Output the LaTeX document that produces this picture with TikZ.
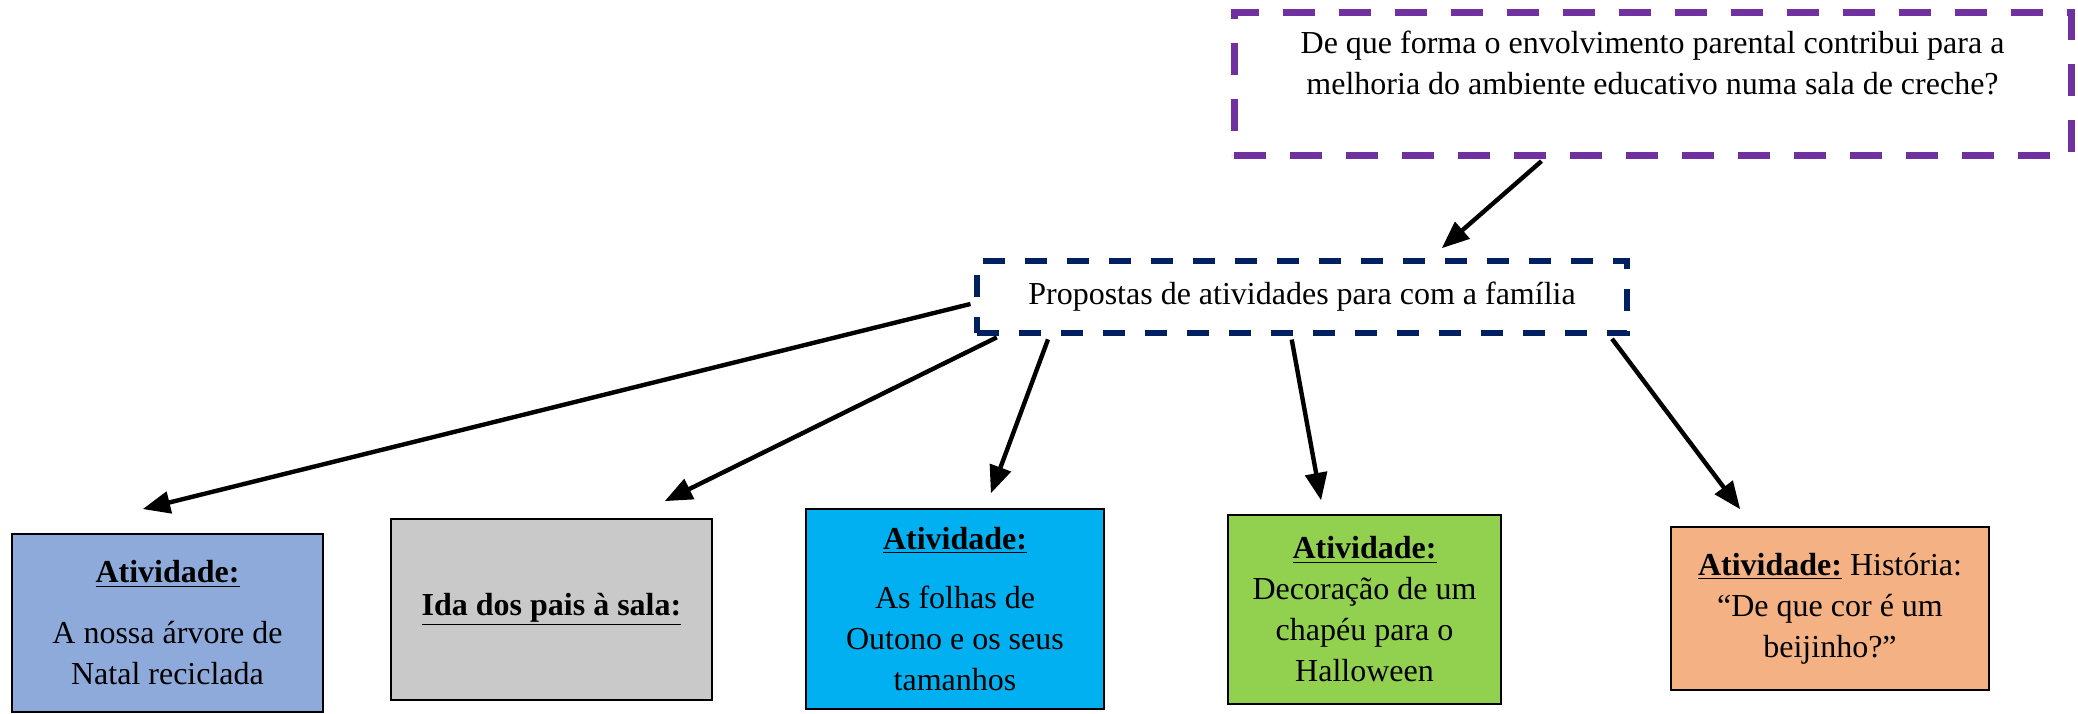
\documentclass[tikz,border=0pt]{standalone}
\usepackage{fontspec}
\setmainfont{Liberation Serif}
\usepackage{tikz}
\usetikzlibrary{arrows}

\definecolor{roxo}{HTML}{7030A0}
\definecolor{marinho}{HTML}{002060}
\definecolor{azulclaro}{HTML}{8EAADB}
\definecolor{cinza}{HTML}{C9C9C9}
\definecolor{ciano}{HTML}{00B0F0}
\definecolor{verde}{HTML}{92D050}
\definecolor{laranja}{HTML}{F4B183}

\newcommand{\ativ}{\underline{\textbf{Atividade:}}}

\begin{document}
\begin{tikzpicture}[x=0.5pt,y=-0.5pt,
every node/.style={font=\fontsize{16}{20.5}\selectfont,align=center,inner sep=0pt},
caixa/.style={draw=black,line width=0.8pt},
flecha/.style={-triangle 45,line width=2.2pt,shorten <=2pt}]
\useasboundingbox (0,0) rectangle (2078,713);
\draw 
(1652.5,83.5) node[draw=roxo,line width=3.5pt,dash pattern=on 16pt off 12pt,
  minimum width=418.5pt,minimum height=71.5pt](ques)
  {De que forma o envolvimento parental contribui para a\\
   melhoria do ambiente educativo numa sala de creche?\\ \mbox{}}
(1302,297) node[draw=marinho,line width=2.6pt,dash pattern=on 11pt off 10pt,
  minimum width=325pt,minimum height=36pt](prop)
  {Propostas de atividades para com a família}
(167.5,623) node[caixa,fill=azulclaro,minimum width=155.5pt,minimum height=89pt](arvore)
  {\ativ\\[10pt] A nossa árvore de\\ Natal reciclada}
(551.5,609.5) node[caixa,fill=cinza,minimum width=160.5pt,minimum height=90.5pt](pais)
  {\underline{\textbf{Ida dos pais à sala:}}}
(955,609) node[caixa,fill=ciano,minimum width=149pt,minimum height=100pt](folhas)
  {\ativ\\[9pt] As folhas de\\ Outono e os seus\\ tamanhos}
(1364.5,609.5) node[caixa,fill=verde,minimum width=136.5pt,minimum height=94.5pt](chapeu)
  {\ativ\\ Decoração de um\\ chapéu para o\\ Halloween}
(1830,608.5) node[caixa,fill=laranja,minimum width=159pt,minimum height=81.5pt](beijo)
  {\ativ{} História:\\ “De que cor é um\\ beijinho?”}
;
%%% arrow tips
\coordinate (t0) at (1442,248);
\coordinate (t1) at (143,509);
\coordinate (t2) at (665,501);
\coordinate (t3) at (991,493);
\coordinate (t4) at (1321,500);
\coordinate (t5) at (1740,509);

\draw[flecha]([xshift=-54pt]ques.south) -- (t0);
\draw[flecha]([yshift=-3pt]prop.west) -- (t1);
\foreach \d/\a/\t in {13/south west/t2, 37.5/south west/t3, -5.5/south/t4, -10/south east/t5}{
\draw[flecha]([xshift=\d pt]prop.\a) -- (\t);
}

\end{tikzpicture}
\end{document}
